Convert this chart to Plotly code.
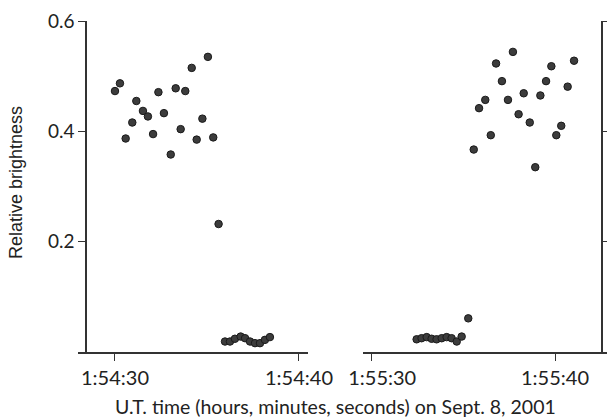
import plotly.graph_objects as go

# Seconds past the minute (left: 1:54:xx, right: 1:55:xx)
left_t = [30.00, 30.27, 30.58, 30.94, 31.16, 31.52, 31.79, 32.07, 32.36, 32.66,
          33.03, 33.30, 33.57, 33.82, 34.17, 34.44, 34.75, 35.05, 35.34, 35.63,
          35.98, 36.25, 36.52, 36.83, 37.07, 37.34, 37.61, 37.88, 38.15, 38.42]
left_b = [0.473, 0.487, 0.387, 0.416, 0.455, 0.437, 0.427, 0.395, 0.471, 0.433,
          0.358, 0.478, 0.404, 0.473, 0.515, 0.385, 0.423, 0.535, 0.389, 0.232,
          0.019, 0.019, 0.024, 0.028, 0.025, 0.019, 0.016, 0.016, 0.022, 0.027]

right_t = [32.44, 32.71, 32.99, 33.26, 33.53, 33.81, 34.08, 34.35, 34.63, 34.90,
           35.26, 35.56, 35.85, 36.19, 36.49, 36.78, 37.10, 37.43, 37.70, 38.01,
           38.29, 38.62, 38.92, 39.20, 39.51, 39.80, 40.07, 40.34, 40.69, 41.04]
right_b = [0.023, 0.025, 0.027, 0.024, 0.023, 0.025, 0.027, 0.025, 0.019, 0.028,
           0.061, 0.367, 0.442, 0.457, 0.393, 0.523, 0.491, 0.457, 0.544, 0.431,
           0.469, 0.416, 0.335, 0.465, 0.491, 0.518, 0.393, 0.410, 0.481, 0.528]

x_tickvals = [30, 40]
left_ticktext = ["1:54:30", "1:54:40"]
right_ticktext = ["\u00a0\u00a0\u00a0\u00a01:55:30", "1:55:40"]
y_tickvals = [0.2, 0.4, 0.6]
y_ticktext = ["0.2", "0.4", "0.6"]

x_title = "U.T. time (hours, minutes, seconds) on Sept. 8, 2001"
y_title = "Relative brightness"

AX = "#333333"
TXT = "#222222"
FONT = "Lato, Liberation Sans, sans-serif"

marker = dict(size=7.5, color="#3c3c3c", line=dict(color="#1a1a1a", width=1))

fig = go.Figure()
fig.add_trace(go.Scatter(x=left_t, y=left_b, mode="markers", marker=marker,
                         xaxis="x", yaxis="y", showlegend=False))
fig.add_trace(go.Scatter(x=right_t, y=right_b, mode="markers", marker=marker,
                         xaxis="x2", yaxis="y2", showlegend=False))

W, H = 607, 419
ml, mr, mt, mb = 78, 0, 21, 67
pw = W - ml - mr
ph = H - mt - mb

def px(xp):
    return (xp - ml) / pw

def py(yp):
    return (H - mb - yp) / ph

common_x = dict(showline=True, linecolor=AX, linewidth=1.5, ticks="outside",
                ticklen=7, tickwidth=1.2, tickcolor=AX, showgrid=False,
                zeroline=False, tickvals=x_tickvals, automargin=False,
                tickfont=dict(family=FONT, size=20, color=TXT))

fig.update_layout(
    width=W, height=H, autosize=False,
    margin=dict(l=ml, r=mr, t=mt, b=mb, pad=0),
    paper_bgcolor="white", plot_bgcolor="white",
    xaxis=dict(domain=[0, px(308)], range=[27.99, 40.49], anchor="y",
               ticktext=left_ticktext, **common_x),
    xaxis2=dict(domain=[px(363), 1], range=[29.51, 42.84], anchor="y2",
                ticktext=right_ticktext, **common_x),
    yaxis=dict(range=[0, 0.6], anchor="free", position=px(86), showline=True,
               linecolor=AX, linewidth=1.5, ticks="outside", ticklen=7,
               tickwidth=1.2, tickcolor=AX, showgrid=False, zeroline=False,
               tickvals=y_tickvals, ticktext=y_ticktext, automargin=False,
               tickfont=dict(family=FONT, size=19, color=TXT)),
    yaxis2=dict(range=[0, 0.6], anchor="free", position=px(602), side="right",
                showline=True, linecolor=AX, linewidth=1.5, ticks="outside",
                ticklen=5, tickwidth=1.2, tickcolor=AX, showgrid=False,
                zeroline=False, tickvals=y_tickvals, showticklabels=False,
                automargin=False),
    annotations=[
        dict(text=x_title, xref="paper", yref="paper", x=px(335), y=py(406),
             showarrow=False, xanchor="center", yanchor="middle",
             font=dict(family=FONT, size=19.5, color=TXT)),
        dict(text=y_title, xref="paper", yref="paper", x=px(16), y=py(183),
             showarrow=False, xanchor="center", yanchor="middle", textangle=-90,
             font=dict(family="Liberation Sans, Arial, sans-serif", size=18, color=TXT)),
    ],
)

fig.write_html("out.html", config={"displayModeBar": False},
               post_script="document.body.style.margin='0';document.body.style.padding='0';")
